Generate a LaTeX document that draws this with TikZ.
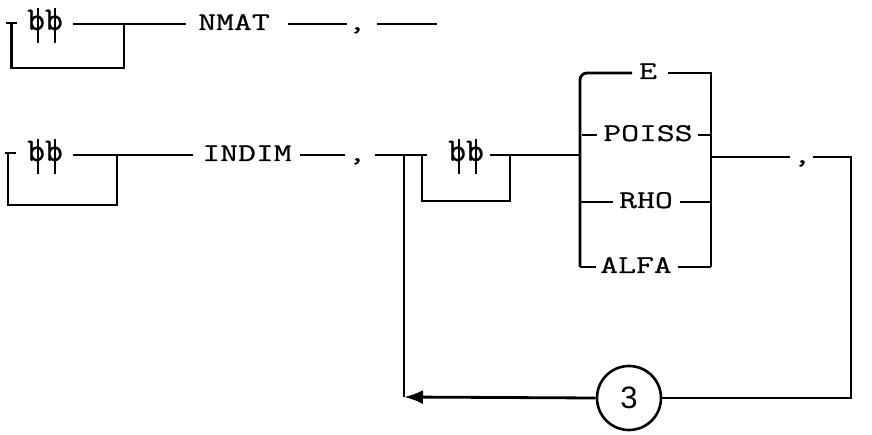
\documentclass[tikz,border=0pt]{standalone}
\usepackage{fontspec}
\usetikzlibrary{arrows.meta}
\newfontfamily\tw{Latin Modern Mono}[FakeStretch=1.36,FakeBold=0.7]
\newfontfamily\dg{Liberation Sans}
\newcommand\blk{\ooalign{\scalebox{1}[1.3]{b}\cr\hidewidth\kern0.12em\rule[-0.5em]{2pt}{1.38em}\hidewidth\cr}}
\begin{document}
\begin{tikzpicture}[x=1pt,y=-1pt,line width=2.8pt,
  lbl/.style={font=\tw\fontsize{25.5}{25.5}\selectfont, inner sep=0pt, text height=16pt, text depth=4pt},
  ring/.style={circle, draw, line width=2.6pt, minimum size=64pt, inner sep=0pt, font=\dg\fontsize{31}{31}\selectfont},
  back/.style={-{Latex[length=19pt,width=14pt]}}]
\useasboundingbox (0,0) rectangle (872,435);
% ---------- row 1 ----------
\node[lbl] (b1) at (45,24) {\blk\blk};
\node[lbl] (nmat) at (234,24) {NMAT};
\node[lbl] (c1) at (357,24) {,};
\coordinate (s1a) at (6,23); \coordinate (s1b) at (17,23);
\coordinate (s1c) at (11.5,23); \coordinate (s1d) at (11.5,68);
\coordinate (s1e) at (124,68); \coordinate (s1f) at (124,24);
\coordinate (l1a) at (73,24); \coordinate (l1b) at (186,24);
\coordinate (l1c) at (288,24); \coordinate (l1d) at (347,24);
\coordinate (l1e) at (377,24); \coordinate (l1f) at (437,24);
\draw (s1a) -- (s1b);
\draw (s1c) -- (s1d) -- (s1e) -- (s1f);
\draw (l1a) -- (l1b);
\draw (l1c) -- (l1d);
\draw (l1e) -- (l1f);
% ---------- row 2 ----------
\node[lbl] (b2) at (45,155) {\blk\blk};
\node[lbl] (indim) at (247,155) {INDIM};
\node[lbl] (c2) at (357,155) {,};
\node[lbl] (b3) at (466,155) {\blk\blk};
\node[lbl] (e) at (648,73) {E};
\node[lbl] (poiss) at (648,135) {POISS};
\node[lbl] (rho) at (646,202) {RHO};
\node[lbl] (alfa) at (636,267) {ALFA};
\node[lbl] (c3) at (802,157) {,};
\node[ring] (three) at (629,398) {3};
\coordinate (s2a) at (5,153); \coordinate (s2b) at (16,153);
\coordinate (s2c) at (8,153); \coordinate (s2d) at (8,205);
\coordinate (s2e) at (117,205); \coordinate (s2f) at (117,155);
\coordinate (l2a) at (73,155); \coordinate (l2b) at (193,155);
\coordinate (l2c) at (300,155); \coordinate (l2d) at (345,155);
\coordinate (l2e) at (375,155); \coordinate (l2f) at (427,155);
\coordinate (i1) at (422,155); \coordinate (i2) at (422,201);
\coordinate (i3) at (510,201); \coordinate (i4) at (510,155);
\coordinate (l2g) at (490,155); \coordinate (bxin) at (580,155);
\coordinate (lp1) at (404,155); \coordinate (lp2) at (404,397);
\coordinate (bxtl) at (580,73); \coordinate (bxbl) at (580,267);
\coordinate (bxtr) at (711,73); \coordinate (bxbr) at (711,267);
\coordinate (ea) at (632,73); \coordinate (eb) at (668,73);
\coordinate (pa) at (582,135); \coordinate (pb) at (597,135);
\coordinate (pc) at (698,135); \coordinate (pd) at (711,135);
\coordinate (ra) at (613,202); \coordinate (rb) at (680,202);
\coordinate (rc) at (711,202); \coordinate (rd) at (580,202);
\coordinate (aa) at (596,267); \coordinate (ab) at (678,267);
\coordinate (bxout) at (711,157); \coordinate (o1) at (790,157);
\coordinate (o2) at (813,157); \coordinate (o3) at (851,157);
\coordinate (o4) at (851,398);
\draw (s2a) -- (s2b);
\draw (s2c) -- (s2d) -- (s2e) -- (s2f);
\draw (l2a) -- (l2b);
\draw (l2c) -- (l2d);
\draw (l2e) -- (l2f);
\draw (i1) -- (i2) -- (i3) -- (i4);
\draw (l2g) -- (bxin);
\draw (lp1) -- (lp2);
\draw[rounded corners=7pt] (bxbl) -- (bxtl) -- (ea);
\draw (eb) -- (bxtr) -- (bxbr);
\draw (pa) -- (pb);
\draw (pc) -- (pd);
\draw (rd) -- (ra);
\draw (rb) -- (rc);
\draw (bxbl) -- (aa);
\draw (ab) -- (bxbr);
\draw (bxout) -- (o1);
\draw (o2) -- (o3) -- (o4) -- (three.east);
\draw[back] (three.west) -- (lp2);
\end{tikzpicture}
\end{document}
